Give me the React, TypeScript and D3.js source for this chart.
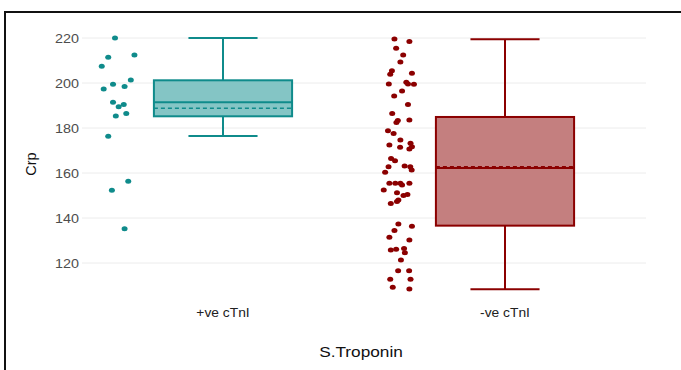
import React, { useEffect, useRef } from 'react';
import * as d3 from 'd3';

const categories = ['+ve cTnI', '-ve cTnI'];
const colors = ['#0f8b8b', '#8b0000'];
const fills = ['#84c5c5', '#c47f7f'];

// box stats: lower whisker, q1, median, q3, upper whisker, mean
const boxStats = [
  [176.4, 185.2, 191.4, 201.2, 220, 188.8],
  [108.3, 136.6, 162.2, 184.9, 219.4, 162.8],
];

const posValues = [220, 211.4, 212.4, 207.4, 201.3, 199.4, 197.3, 198.4, 191.4, 190.4, 189.5, 185.3, 186.4, 176.3, 156.3, 152.3, 135.2];
const posJitter = [-0.008, -0.032, 0.061, -0.055, 0.048, -0.015, -0.048, 0.026, -0.015, 0.023, 0.005, -0.005, 0.032, -0.032, 0.039, -0.019, 0.026];

const negValues = [219.6, 218.4, 215.4, 212.4, 209.3, 205.5, 204.3, 203.9, 199.6, 200.3, 199.6, 199.4, 196.4, 194.2, 190.4, 186.5, 183.3, 182.5, 183.6, 178.8, 177.6, 174.7, 172.4, 171.4, 173.2, 171.7, 170.7, 166.5, 165.5, 162.8, 160.3, 163.1, 162.8, 161.3, 155.4, 155.4, 155.4, 155.4, 152.4, 151.2, 154.7, 150.4, 150, 148, 146.5, 147.3, 137.3, 136.3, 134.4, 131.4, 130.2, 125.8, 126.1, 126.4, 124.6, 121.3, 116.6, 116.6, 112.8, 112.8, 109.2, 108.4];
const negJitter = [-0.017, 0.036, -0.011, 0.014, 0.004, -0.026, 0.045, -0.032, -0.037, 0.025, 0.031, 0.052, 0.01, -0.018, 0.031, -0.025, -0.005, -0.01, 0.036, -0.04, -0.02, 0.004, -0.035, 0.003, 0.04, 0.045, 0.036, -0.029, -0.015, -0.038, -0.05, 0.019, 0.039, 0.044, -0.035, -0.014, 0.004, 0.036, -0.055, -0.008, 0.01, 0.029, 0.015, -0.003, -0.03, -0.008, -0.003, 0.045, -0.017, -0.035, 0.036, -0.03, -0.011, 0.017, 0.02, 0.006, -0.004, 0.035, -0.032, 0.04, -0.023, 0.036];

const yTicks = [120, 140, 160, 180, 200, 220];

const W = 681;
const H = 370;
const SX = 1.15;

const App = () => {
  const ref = useRef<SVGSVGElement>(null);

  useEffect(() => {
    if (!ref.current) return;
    const svg = d3.select(ref.current);
    svg.selectAll('*').remove();

    const x = d3.scalePoint<string>().domain(categories).range([82, 646]).padding(0.5);
    const step = x.step();
    const y = d3.scaleLinear().domain([120, 220]).range([263, 38]);
    const font = 'Liberation Sans, Arial, sans-serif';

    // frame (cropped screenshot border)
    svg.append('path')
      .attr('d', `M5,${H} L5,12 L${W},12`)
      .attr('fill', 'none')
      .attr('stroke', '#111')
      .attr('stroke-width', 2);

    // grid
    svg.append('g').selectAll('line').data(yTicks).join('line')
      .attr('x1', 82).attr('x2', 646)
      .attr('y1', d => y(d)).attr('y2', d => y(d))
      .attr('stroke', '#ececec').attr('stroke-width', 1);

    // y tick labels
    svg.append('g').selectAll('text').data(yTicks).join('text')
      .attr('transform', d => `translate(79,${y(d) + 4.5}) scale(${SX},1)`)
      .attr('text-anchor', 'end')
      .attr('font-family', font).attr('font-size', 12.5)
      .attr('fill', '#4d4d4d')
      .text(d => d);

    // x tick labels
    svg.append('g').selectAll('text').data(categories).join('text')
      .attr('transform', d => `translate(${x(d)},317) scale(${SX},1)`)
      .attr('text-anchor', 'middle')
      .attr('font-family', font).attr('font-size', 12)
      .attr('fill', '#222')
      .text(d => d);

    // axis titles
    svg.append('text')
      .attr('transform', `translate(361,357) scale(${SX},1)`)
      .attr('text-anchor', 'middle')
      .attr('font-family', font).attr('font-size', 15)
      .attr('fill', '#111')
      .text('S.Troponin');
    svg.append('text')
      .attr('transform', 'translate(36,164) rotate(-90)')
      .attr('text-anchor', 'middle')
      .attr('font-family', font).attr('font-size', 14.5)
      .attr('fill', '#111')
      .text('Crp');

    // boxes
    const boxW = step * 0.49;
    const capW = step * 0.245;
    categories.forEach((c, i) => {
      const [lo, q1, med, q3, hi, mean] = boxStats[i];
      const cx = x(c) as number;
      const g = svg.append('g').attr('stroke', colors[i]).attr('stroke-width', 2);
      g.append('line').attr('x1', cx).attr('x2', cx).attr('y1', y(hi)).attr('y2', y(q3));
      g.append('line').attr('x1', cx).attr('x2', cx).attr('y1', y(q1)).attr('y2', y(lo));
      g.append('line').attr('x1', cx - capW / 2).attr('x2', cx + capW / 2).attr('y1', y(hi)).attr('y2', y(hi));
      g.append('line').attr('x1', cx - capW / 2).attr('x2', cx + capW / 2).attr('y1', y(lo)).attr('y2', y(lo));
      g.append('rect')
        .attr('x', cx - boxW / 2).attr('width', boxW)
        .attr('y', y(q3)).attr('height', y(q1) - y(q3))
        .attr('fill', fills[i]);
      g.append('line').attr('x1', cx - boxW / 2).attr('x2', cx + boxW / 2).attr('y1', y(med)).attr('y2', y(med));
      g.append('line').attr('x1', cx - boxW / 2).attr('x2', cx + boxW / 2).attr('y1', y(mean)).attr('y2', y(mean))
        .attr('stroke-dasharray', '4,3').attr('stroke-width', 1.6);
    });

    // jittered points, nudged left of the boxes
    const nudge = -0.375;
    const groups = [
      { values: posValues, jitter: posJitter },
      { values: negValues, jitter: negJitter },
    ];
    groups.forEach((grp, i) => {
      const cx = x(categories[i]) as number;
      svg.append('g').selectAll('ellipse').data(grp.values).join('ellipse')
        .attr('cx', (d, j) => cx + (nudge + grp.jitter[j]) * step)
        .attr('cy', d => y(d))
        .attr('rx', 3).attr('ry', 2.5)
        .attr('fill', colors[i]);
    });
  }, []);

  return (
    <svg ref={ref} width={W} height={H}
      style={{ position: 'absolute', left: 0, top: 0, background: '#fff' }} />
  );
};

export default App;
